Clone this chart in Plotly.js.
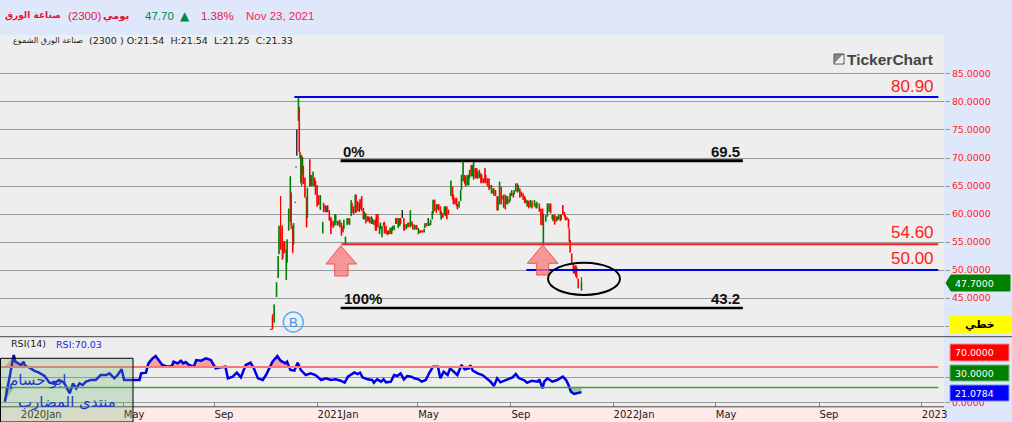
<!DOCTYPE html>
<html><head><meta charset="utf-8">
<script src="https://cdn.plot.ly/plotly-3.0.1.min.js"></script>
<style>html,body{margin:0;padding:0;background:#dfe7fb;overflow:hidden}#c{width:1012px;height:422px}</style>
</head><body><div id="c"></div>
<script>
const dates=["2020-11-07","2020-11-09","2020-11-12","2020-11-14","2020-11-15","2020-11-17","2020-11-19","2020-11-20","2020-11-22","2020-11-24","2020-11-25","2020-11-27","2020-11-29","2020-11-30","2020-12-02","2020-12-03","2020-12-09","2020-12-10","2020-12-11","2020-12-12","2020-12-13","2020-12-14","2020-12-15","2020-12-17","2020-12-19","2020-12-20","2020-12-23","2020-12-24","2020-12-25","2020-12-27","2020-12-29","2020-12-30","2021-01-01","2021-01-03","2021-01-05","2021-01-08","2021-01-09","2021-01-11","2021-01-14","2021-01-16","2021-01-18","2021-01-19","2021-01-21","2021-01-23","2021-01-24","2021-01-26","2021-01-28","2021-01-29","2021-01-31","2021-02-02","2021-02-03","2021-02-05","2021-02-07","2021-02-08","2021-02-10","2021-02-12","2021-02-13","2021-02-15","2021-02-17","2021-02-18","2021-02-20","2021-02-23","2021-02-25","2021-02-27","2021-02-28","2021-03-02","2021-03-04","2021-03-05","2021-03-07","2021-03-09","2021-03-10","2021-03-12","2021-03-14","2021-03-15","2021-03-17","2021-03-19","2021-03-20","2021-03-22","2021-03-24","2021-03-25","2021-03-27","2021-03-29","2021-03-30","2021-04-01","2021-04-03","2021-04-04","2021-04-06","2021-04-08","2021-04-09","2021-04-11","2021-04-13","2021-04-14","2021-04-18","2021-04-19","2021-04-21","2021-04-23","2021-04-24","2021-04-26","2021-04-28","2021-04-29","2021-05-01","2021-05-03","2021-05-04","2021-05-06","2021-05-08","2021-05-09","2021-05-11","2021-05-13","2021-05-14","2021-05-16","2021-05-19","2021-05-21","2021-05-23","2021-05-24","2021-05-26","2021-05-28","2021-05-29","2021-05-31","2021-06-02","2021-06-03","2021-06-05","2021-06-07","2021-06-08","2021-06-10","2021-06-12","2021-06-15","2021-06-17","2021-06-18","2021-06-20","2021-06-22","2021-06-23","2021-06-25","2021-06-27","2021-06-28","2021-06-30","2021-07-02","2021-07-03","2021-07-05","2021-07-07","2021-07-08","2021-07-10","2021-07-12","2021-07-13","2021-07-15","2021-07-17","2021-07-18","2021-07-20","2021-07-22","2021-07-23","2021-07-25","2021-07-27","2021-07-28","2021-07-30","2021-08-01","2021-08-02","2021-08-04","2021-08-06","2021-08-07","2021-08-09","2021-08-11","2021-08-12","2021-08-14","2021-08-16","2021-08-17","2021-08-19","2021-08-21","2021-08-22","2021-08-24","2021-08-26","2021-08-27","2021-08-29","2021-08-31","2021-09-01","2021-09-03","2021-09-05","2021-09-06","2021-09-08","2021-09-10","2021-09-12","2021-09-14","2021-09-15","2021-09-17","2021-09-19","2021-09-21","2021-09-23","2021-09-26","2021-09-28","2021-09-29","2021-10-02","2021-10-04","2021-10-06","2021-10-07","2021-10-10","2021-10-12","2021-10-14","2021-10-16","2021-10-18","2021-10-19","2021-10-21","2021-10-23","2021-10-24","2021-10-26","2021-10-28","2021-10-29","2021-10-31","2021-11-02","2021-11-03","2021-11-05","2021-11-07","2021-11-08","2021-11-09","2021-11-11","2021-11-13","2021-11-14","2021-11-16","2021-11-17","2021-11-19","2021-11-23"];
const opens=[41.5,40.8,45.3,48.7,52.9,58,57.5,54.8,55,48.4,51.5,57.2,58.8,63.5,57.8,54.7,76.8,79,70.9,65.7,70.3,67.2,68.4,66.3,62.8,59.5,69.6,65.1,66.7,65.1,66.3,65.8,65,63.2,60.9,56.7,61.8,61.4,61.4,60.5,59.3,58.8,58.5,58.1,58.6,58.1,58.6,57.8,58.3,57.7,57.5,54.9,58.2,59.1,58.2,59.8,61.8,61.2,60.4,63.3,62.1,62.5,63,60.9,59.2,60,58.9,59.4,58.5,59.4,58.4,58.8,58.8,59.8,59.8,56.6,57.5,56,58.3,58.4,57.7,56.4,56.9,56.6,57.4,57.1,57.3,58.4,59.1,57.7,58,59.1,59.1,58,57.4,58.3,58.3,57.8,58.5,58,57.4,57.9,57.8,56.5,57,56.9,56.9,56.8,57.6,58.2,58,58.2,59.2,60.2,62.4,61.5,60.9,61.6,61.2,59.1,60,60,59.8,61.2,60.6,63.4,64.7,63.3,62.7,62.7,61.6,61.3,62.5,64.5,66,66.8,66.5,65.3,65.3,66.6,68.6,66.9,66.3,68,68,66.5,66.6,67.1,66.8,66.2,68,66.8,66.2,66.2,65,63.8,63.8,64.4,64.1,63,60.8,61.9,64.7,63,61.3,63.3,61.9,63,62.1,62.5,63.3,63.6,63.6,64.2,65.3,64.2,64.4,63.8,63.5,63,62.6,61.5,62.2,61.4,62.2,61.5,61.8,61.2,61.7,60.8,60.8,54.8,58.8,59.7,60.5,61.7,59.2,58.9,59.7,58.8,59.4,59.1,59.7,59.1,61.4,60.2,59.6,59.3,59,57.2,55.2,52.8,51,50.5,49,50.4,48.3,46.5];
const highs=[42.1,43.9,47.8,52.5,57.9,63.2,58,55.2,55.2,53.7,55.5,61,66.8,63.9,58,58.4,80.8,79.1,71,70.6,70.5,70.2,68.6,66.5,63,64.7,69.8,67,66.9,67.6,66.5,66,65.2,63.4,63.4,58.6,62,61.6,61.6,60.7,59.5,59,58.7,60,59.9,58.8,58.8,59,58.5,57.9,59,56,59.3,59.3,59.3,62.5,62,61.4,63.5,63.5,62.3,62.7,63.2,61.1,60.5,60.2,59.6,59.6,59.5,59.6,59.3,59,59,60,60,57.9,58.5,57.9,58.5,58.6,57.9,57,57.1,57.6,57.6,57.9,58,59.3,59.3,59.3,59.3,59.3,59.3,58.2,58.2,58.5,58.5,60.7,58.7,58.2,58.1,58.1,58,57.5,57.1,57.1,57.1,57.4,58.4,58.4,58.4,59,60.5,62.6,62.6,61.7,61.8,61.8,61.4,60.5,60.2,61.4,61.4,61.4,60.8,66,64.9,63.5,62.9,62.9,61.8,62.3,64.3,67,69.3,67,66.7,67,67,67.9,68.8,68.8,69.4,68.2,68.2,67.6,67.9,67.3,67,66.4,68.2,67,66.4,66.4,65.2,65.2,64.6,64.6,64.3,63.2,63.2,65.8,64.9,63.2,63.5,63.5,63.2,63.2,62.6,63.8,64.3,63.8,64.3,65.5,65.5,65.2,64.6,64,63.7,63.2,62.8,62.5,62.4,62.5,62.4,62.5,62,62.2,61.9,61,61,60.1,59.8,61.9,61.9,61.9,59.9,59.9,59.9,59.6,59.6,59.9,59.9,59.9,61.6,60.4,59.8,59.5,59.2,57.4,55.4,53,51.2,50.7,50.9,50.6,48.5,48.7];
const lows=[39.4,40.6,45.2,48.6,52.8,53.6,51.8,52,53,48.2,51.3,57,58.6,57.3,53,54.5,76.6,71,70,65.5,65,67,65.3,62.9,57.6,59.3,64.9,64.9,65,64.9,65,63.4,61.3,61.6,60.7,56.5,60.3,60.3,60.3,58.8,56.4,57.8,57.5,57.9,58.4,57.9,58,57.6,56.1,56.7,57.3,54.7,58,58.2,58,59.6,60.2,59.9,60.2,60.2,60.5,60.8,60.5,59,59,58.3,58.7,58.6,58.3,58.2,58.2,58,57,57,57.6,56.4,57.3,55.8,57.9,56.5,56.4,56.2,56.4,56.4,56.4,57,57.1,58.2,58.2,57.5,57.8,58.2,57,57.1,57.3,57.6,57.7,57.6,57.8,57.2,57.2,57.2,57.2,56.4,56.6,56.7,56.7,56.7,57.5,57.8,57.8,58,59,60,60.5,60.2,60.8,60.6,59.9,59,59.3,59.9,59.6,59,59.9,63.2,62.6,61.7,61.7,61.4,60.8,61.1,62.3,64.3,65.8,65.4,64.9,65.1,65.1,66.4,66.7,66.7,66.1,66.4,66.3,66.3,66.4,65.5,65.5,65.5,65.5,65.5,64.9,64.3,64.6,63.6,63.6,63.2,63.2,60.6,60.6,61.7,61.7,62.6,61.1,60.8,61.7,61.7,62,62.3,63.2,62.9,63.5,64,63.8,64,62.9,63.1,62.5,61.9,61.9,61.3,61,61.2,61,61.3,61,61,60.4,58,58,54.6,58.6,59.5,60.4,60.1,59,58.7,58.1,58.6,58.8,59,58.7,59,59.8,59.5,58.9,58.9,57.4,55,53.1,51.2,49.4,49.3,48.8,48.5,46.7,46.3];
const closes=[39.6,43.7,47.7,52.4,57.8,54,53.5,53,53.4,53.5,55.3,60.8,66.5,58,53.3,58.2,80.6,71.2,70.1,70.4,65.5,70,65.5,63.1,57.8,64.5,65.1,66.8,65.2,67.4,65.2,63.6,61.5,61.8,63.2,58.4,60.5,60.5,60.5,59,56.6,58,57.7,59.8,59.7,58.6,58.2,58.8,56.3,56.9,58.8,55.8,59.1,58.4,59.1,62.3,60.4,60.1,63.3,60.4,60.7,61,60.7,59.2,60.3,58.5,59.4,58.8,59.3,58.4,59.1,58.2,57.2,57.2,57.8,57.7,58.3,57.7,58.1,56.7,56.6,56.8,56.6,57.4,56.6,57.7,57.8,59.1,58.4,59.1,59.1,58.4,57.2,57.3,58,57.8,57.9,60.5,58,57.4,57.9,57.4,57.4,57.3,56.7,56.8,56.8,57.2,58.2,58,58.2,58.8,60.3,62.4,60.7,60.4,61.6,60.8,60.1,60.3,59.5,61.2,61.2,59.2,60.1,65.8,62.8,61.9,61.9,61.6,61,62.1,64.1,66.8,69.1,65.6,65.1,66.8,66.8,67.7,66.9,68.6,69.2,66.6,66.5,67.4,67.7,65.7,65.7,65.7,65.7,65.7,65.1,64.5,64.7,65,64.4,63.4,63.4,60.8,63,65.6,61.9,62.7,63.3,61,63,61.9,62.5,63.6,64.1,63.1,64.1,65.3,64,65,63.1,63.3,62.7,62.1,62.1,62.3,61.2,62.3,61.2,62.3,61.2,62,60.6,58.2,58.2,59.9,59.6,61.7,61.7,60.3,59.7,59.7,58.3,59.4,59,59.7,58.9,59.7,60,59.7,59.1,59,57.6,55.2,53.3,51.4,49.6,49.5,50.7,48.7,46.9,47.7];
const flatDates=["2020-11-05","2020-12-05","2020-12-06","2020-12-07","2021-01-13","2021-02-22","2021-04-16","2021-05-18"];
const flatHigh=[39.5,62.2,68.5,75.1,61.4,62,60.7,59.3];
const flatLow=[39.3,62,68.3,70.4,60.3,60.4,59.3,57.9];
const flatMid=[39.4,62.1,68.4,72,60.8,61,60,58.5];
const rsiDates=["2019-12-13","2019-12-24","2019-12-26","2019-12-30","2020-01-02","2020-01-05","2020-01-07","2020-01-12","2020-01-18","2020-01-24","2020-01-31","2020-02-06","2020-02-12","2020-02-18","2020-02-24","2020-03-02","2020-03-06","2020-03-10","2020-03-14","2020-03-18","2020-03-22","2020-03-28","2020-04-03","2020-04-09","2020-04-16","2020-04-20","2020-04-26","2020-04-30","2020-05-05","2020-05-08","2020-05-15","2020-05-21","2020-05-27","2020-05-29","2020-06-04","2020-06-07","2020-06-12","2020-06-16","2020-06-20","2020-06-24","2020-07-01","2020-07-06","2020-07-08","2020-07-13","2020-07-17","2020-07-20","2020-07-23","2020-07-27","2020-08-02","2020-08-05","2020-08-11","2020-08-17","2020-08-23","2020-08-27","2020-08-29","2020-09-04","2020-09-10","2020-09-13","2020-09-19","2020-09-24","2020-09-29","2020-10-05","2020-10-11","2020-10-15","2020-10-20","2020-10-26","2020-10-30","2020-11-03","2020-11-07","2020-11-13","2020-11-17","2020-11-23","2020-11-25","2020-11-29","2020-12-04","2020-12-08","2020-12-12","2020-12-18","2020-12-24","2020-12-30","2021-01-06","2021-01-12","2021-01-18","2021-01-24","2021-01-30","2021-02-04","2021-02-08","2021-02-16","2021-02-20","2021-02-23","2021-02-26","2021-03-04","2021-03-10","2021-03-12","2021-03-16","2021-03-21","2021-03-24","2021-03-27","2021-04-02","2021-04-06","2021-04-10","2021-04-14","2021-04-18","2021-04-22","2021-04-27","2021-05-01","2021-05-06","2021-05-10","2021-05-15","2021-05-19","2021-05-24","2021-05-30","2021-06-02","2021-06-06","2021-06-11","2021-06-14","2021-06-18","2021-06-23","2021-06-28","2021-07-02","2021-07-07","2021-07-09","2021-07-12","2021-07-18","2021-07-24","2021-07-30","2021-08-03","2021-08-07","2021-08-11","2021-08-15","2021-08-22","2021-08-30","2021-09-03","2021-09-07","2021-09-13","2021-09-17","2021-09-23","2021-09-30","2021-10-02","2021-10-06","2021-10-08","2021-10-12","2021-10-18","2021-10-24","2021-10-31","2021-11-04","2021-11-07","2021-11-10","2021-11-14","2021-11-18","2021-11-23"];
const rsiValues=[2.6,93.3,80.4,77.1,73.9,80.4,71.9,69.3,62.9,59,52.5,39.5,38.2,44.7,39.5,18.8,38.2,28.5,38.2,35,41.5,44.7,44.7,54.4,54.4,57.7,48,54.4,65.5,44.7,44.7,43.4,44.7,57.7,59,77.1,86.8,91.4,83.6,73.9,70.6,71.9,80.4,77.1,82.3,77.1,79.7,73.9,70.6,83.6,82.3,86.8,83.6,73.9,67.4,69.3,70.6,48,51.2,59,49.9,73.9,78.4,67.4,48,44.7,54.4,67.4,80.4,91.4,82.3,77.1,80.4,64.2,62.9,78.4,64.2,54.4,57.7,54.4,44.7,48,44.7,46,43.4,39.5,51.2,59.6,56.4,59,49.9,46,44.7,39.5,46,41.5,46,40.2,41.5,54.4,52.5,57.7,46,52.5,51.2,48,46,41.5,44.7,57.7,70.6,70.6,48,60.9,54.4,67.4,60.9,54.4,73.9,65.5,67.4,73.2,62.9,57.7,54.4,46,41.5,33,48,40.2,44.7,49.9,56.4,48,44.7,39.5,43.4,41.5,46,28.5,41.5,48,41.5,44.7,51.2,44.7,35,22,17.5,18.8,21.08];
const priceTicks=[40,45,50,55,60,65,70,75,80,85];
const priceTickText=["","45.0000","50.0000","55.0000","60.0000","65.0000","70.0000","75.0000","80.0000","85.0000"];
const timeTicks=["2020-01-01","2020-05-07","2020-08-27","2021-01-01","2021-05-05","2021-08-28","2022-01-01","2022-05-07","2022-09-12","2023-01-16"];
const timeLabels=["2020Jan","May","Sep","2021Jan","May","Sep","2022Jan","May","Sep","2023"];
const levelRed=54.6, levelBlueTop=80.9, levelBlueLow=50, fibTop=69.5, fibBottom=43.2, rsiHigh=70, rsiLow=30;

const W=944,H=422;
const px=x=>x/W, py=y=>1-y/H;
const rectS=(x0,y0,x1,y1,fill,line,lw,layer)=>({type:'rect',xref:'paper',yref:'paper',x0:px(x0),x1:px(x1),y0:py(y0),y1:py(y1),fillcolor:fill,line:{color:line||fill,width:lw===undefined?0:lw},layer:layer||'above'});
const poly=(pts,fill,line)=>({type:'path',xref:'paper',yref:'paper',path:pts.map((p,i)=>(i?'L':'M')+px(p[0])+','+py(p[1])).join(' ')+' Z',fillcolor:fill,line:{color:line,width:1},layer:'above'});
const hline=(x0,x1,y,c,w)=>({type:'line',xref:'x',yref:'y',x0,x1,y0:y,y1:y,line:{color:c,width:w},layer:'above'});
const ann=(text,x,y,o)=>Object.assign({text,xref:'paper',yref:'paper',x:px(x),y:py(y),showarrow:false,xanchor:'left',yanchor:'middle',borderpad:0,font:{family:'Liberation Sans',size:11,color:'#222'}},o||{});
const F=(family,size,color,bold)=>({family,size,color,weight:bold?700:400});

const RIGHT='2023-02-06';
const shapes=[
 rectS(0,407,944,422,'#ffe9e9','#ffe9e9',0,'below'),
 hline('2020-12-04',RIGHT,levelBlueTop,'#0000e6',2),
 hline('2021-01-31',RIGHT,levelRed,'#ff1a1a',2),
 hline('2021-09-16',RIGHT,levelBlueLow,'#0000e6',2),
 hline('2021-01-30','2022-06-10',fibTop,'#000',3),
 hline('2021-01-30','2022-06-10',fibBottom,'#000',2.5),
 {type:'line',xref:'x',yref:'y2',x0:'2019-12-07',x1:RIGHT,y0:rsiHigh,y1:rsiHigh,line:{color:'#f87878',width:2},layer:'above'},
 {type:'line',xref:'x',yref:'y2',x0:'2019-12-07',x1:RIGHT,y0:rsiLow,y1:rsiLow,line:{color:'#3f9f3f',width:1.5},layer:'above'},
 {type:'line',xref:'paper',yref:'paper',x0:0,x1:px(1012),y0:py(336.7),y1:py(336.7),line:{color:'#444',width:1},layer:'above'},
 {type:'line',xref:'paper',yref:'paper',x0:0,x1:px(944),y0:py(406.8),y1:py(406.8),line:{color:'#444',width:1},layer:'above'},
 poly([[340.7,245.7],[326,264],[334.7,264],[334.7,276],[348,276],[348,264],[356.7,264]],'rgba(248,120,120,.75)','#f85050'),
 poly([[542.7,245],[527.3,263.3],[536.7,263.3],[536.7,275],[548.7,275],[548.7,263.3],[558,263.3]],'rgba(248,120,120,.75)','#f85050'),
 {type:'circle',xref:'paper',yref:'paper',x0:px(548),x1:px(620),y0:py(262.7),y1:py(295),line:{color:'#000',width:2},layer:'above'},
 {type:'circle',xref:'paper',yref:'paper',x0:px(283.3),x1:px(303.3),y0:py(312),y1:py(332),line:{color:'#5ab0f5',width:1.5},layer:'above'},
 rectS(834,54,844,64,'#888','#555',1),
 poly([[835,63],[843,55],[843,63]],'#eee','#eee'),
 poly([[946,283],[951,275],[1010,275],[1010,291],[951,291]],'#008000','#008000'),
 rectS(949,315,1012,333,'#ffff00'),
 rectS(950,344,1009,361,'#ff0000','#f88',1),
 rectS(950,365,1009,381,'#008000','#7b7',1),
 rectS(950,385,1009,401,'#0000ff','#88f',1),
 rectS(0.5,358.3,133,422,'rgba(110,180,110,.28)','#000',1)
];
const annotations=[
 ann('صناعة الورق',62,16,{xanchor:'right',font:F('DejaVu Sans',9,'#f01030',true)}),
 ann('(2300)',67,16,{font:F('Liberation Sans',11.5,'#e01848')}),
 ann('يومي',131,16,{xanchor:'right',font:F('DejaVu Sans',10,'#e01030',true)}),
 ann('47.70',144,16,{font:F('Liberation Sans',11.5,'#00884a')}),
 ann('▲',179,16,{font:F('DejaVu Sans',12,'#008a40')}),
 ann('1.38%',200,16,{font:F('Liberation Sans',11.5,'#e01848')}),
 ann('Nov 23, 2021',245,16,{font:F('Liberation Sans',11.5,'#ff1a55')}),
 ann('صناعة الورق الشموع',84,41,{xanchor:'right',font:F('DejaVu Sans',8,'#222')}),
 ann('(2300 ) O:21.54  H:21.54  L:21.25  C:21.33',88,41,{font:F('DejaVu Sans',9.5,'#222')}),
 ann('TickerChart',846,59,{font:F('Liberation Sans',15.5,'#444',true)}),
 ann('80.90',935,86,{xanchor:'right',font:F('Liberation Sans',17,'#ff2020')}),
 ann('54.60',935,232,{xanchor:'right',font:F('Liberation Sans',17,'#ff2020')}),
 ann('50.00',935,258,{xanchor:'right',font:F('Liberation Sans',17,'#ff2020')}),
 ann('0%',342,151,{font:F('Liberation Sans',15,'#111',true)}),
 ann('69.5',741,151,{xanchor:'right',font:F('Liberation Sans',15,'#111',true)}),
 ann('100%',343,298,{font:F('Liberation Sans',15,'#111',true)}),
 ann('43.2',741,298,{xanchor:'right',font:F('Liberation Sans',15,'#111',true)}),
 ann('B',293.5,322,{xanchor:'center',font:F('Liberation Sans',13,'#3a90f0')}),
 ann('47.7000',954,283,{font:F('DejaVu Sans',9.4,'#fff')}),
 ann('خطي',980,324,{xanchor:'center',font:F('DejaVu Sans',11,'#000',true)}),
 ann('70.0000',954,352.5,{font:F('DejaVu Sans',9.4,'#fff')}),
 ann('30.0000',954,373,{font:F('DejaVu Sans',9.4,'#fff')}),
 ann('21.0784',954,393,{font:F('DejaVu Sans',9.4,'#fff')}),
 ann('RSI(14)',10,343,{font:F('DejaVu Sans',9.5,'#222')}),
 ann('RSI:70.03',55,344,{font:F('DejaVu Sans',9.5,'#2222ee')}),
 ann('ابو حسام',67,380,{xanchor:'right',font:F('DejaVu Sans',15,'#1a3ccc')}),
 ann('منتدى المضارب',117,402,{xanchor:'right',font:F('DejaVu Sans',15,'#1a3ccc')})
];
const traces=[
 {type:'candlestick',x:flatDates,open:flatMid,high:flatHigh,low:flatLow,close:flatMid,xaxis:'x',yaxis:'y',whiskerwidth:0,
  increasing:{line:{color:'#000',width:1.2},fillcolor:'#000'},decreasing:{line:{color:'#000',width:1.2},fillcolor:'#000'},hoverinfo:'skip'},
 {type:'candlestick',x:dates,open:opens,high:highs,low:lows,close:closes,xaxis:'x',yaxis:'y',whiskerwidth:0,
  increasing:{line:{color:'#008000',width:1.2},fillcolor:'#008000'},decreasing:{line:{color:'#ff0000',width:1.2},fillcolor:'#ff0000'},hoverinfo:'skip'},
 {type:'scatter',mode:'lines',x:rsiDates,y:rsiDates.map(()=>rsiHigh),yaxis:'y2',line:{width:0},hoverinfo:'skip'},
 {type:'scatter',mode:'lines',x:rsiDates,y:rsiValues.map(v=>Math.max(v,rsiHigh)),yaxis:'y2',fill:'tonexty',fillcolor:'rgba(245,130,130,.7)',line:{width:0},hoverinfo:'skip'},
 {type:'scatter',mode:'lines',x:rsiDates,y:rsiDates.map(()=>rsiLow),yaxis:'y2',line:{width:0},hoverinfo:'skip'},
 {type:'scatter',mode:'lines',x:rsiDates,y:rsiValues.map(v=>Math.min(v,rsiLow)),yaxis:'y2',fill:'tonexty',fillcolor:'rgba(90,180,90,.6)',line:{width:0},hoverinfo:'skip'},
 {type:'scatter',mode:'lines',x:rsiDates,y:rsiValues,yaxis:'y2',line:{color:'#0000e6',width:2.5},hoverinfo:'skip'}
];
const tickFont={family:'DejaVu Sans',size:9.4,color:'#ff1a1a'};
const layout={
 width:1012,height:H,showlegend:false,margin:{l:0,r:68,t:0,b:0,pad:0},
 paper_bgcolor:'#dfe7fb',plot_bgcolor:'#eeeeee',
 xaxis:{type:'date',range:['2019-12-07','2023-02-13'],anchor:'y2',rangeslider:{visible:false},showgrid:false,zeroline:false,
  tickmode:'array',tickvals:timeTicks,ticktext:timeLabels,ticks:'inside',ticklen:4,tickcolor:'#888',showline:false,
  ticklabelposition:'outside right',tickfont:{family:'DejaVu Sans',size:10,color:'#222'}},
 yaxis:{domain:[py(337),py(35)],range:[38.04,91.96],side:'right',anchor:'x',tickmode:'array',tickvals:priceTicks,ticktext:priceTickText,
  showgrid:true,gridcolor:'#999',gridwidth:1,zeroline:false,ticks:'outside',ticklen:5,tickcolor:'#999',tickfont:tickFont,showline:false,fixedrange:true},
 yaxis2:{domain:[py(407),py(337)],range:[-7.8,128.4],side:'right',anchor:'x',tickmode:'array',tickvals:[0,50],ticktext:['0.0000',''],
  showgrid:true,gridcolor:'#999',gridwidth:1,zeroline:false,ticks:'outside',ticklen:5,tickcolor:'#999',tickfont:tickFont,showline:false,fixedrange:true},
 shapes,annotations
};
Plotly.newPlot('c',traces,layout,{displayModeBar:false,staticPlot:true});
</script></body></html>
